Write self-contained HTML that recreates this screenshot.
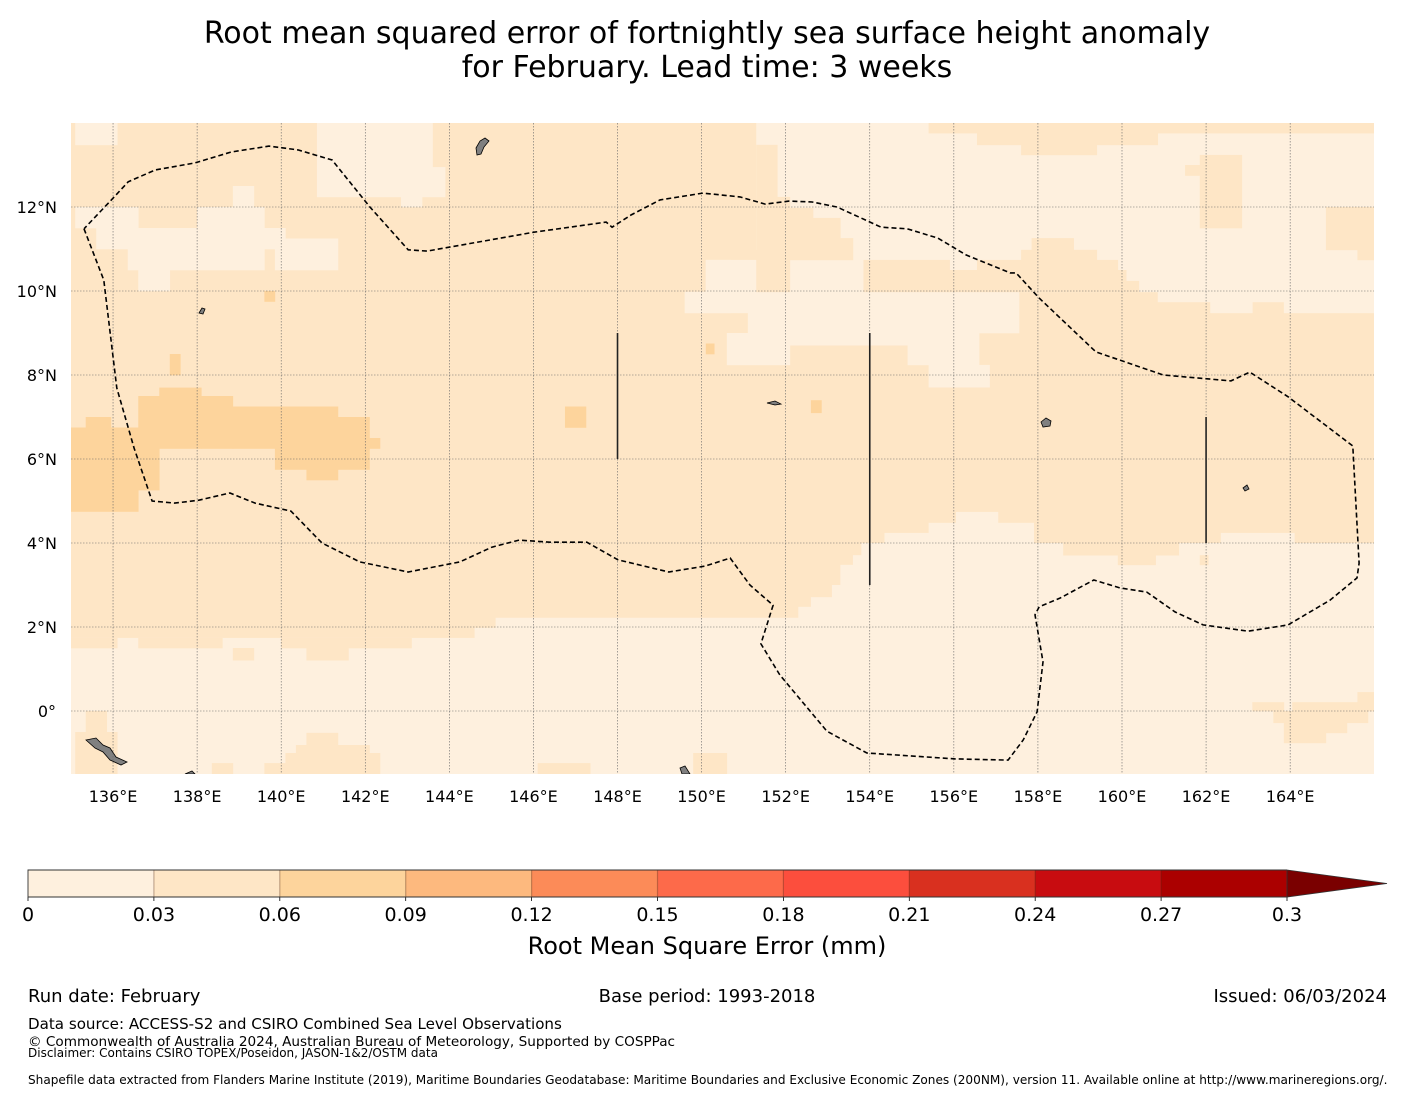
<!DOCTYPE html>
<html><head><meta charset="utf-8"><style>
html,body{margin:0;padding:0;background:#fff;}
svg{display:block;font-family:"DejaVu Sans","Liberation Sans",sans-serif;}
</style></head><body>
<svg id="fig" width="1416" height="1095" viewBox="0 0 1416 1095" xmlns="http://www.w3.org/2000/svg">
<text x="707" y="43" font-size="30" text-anchor="middle" fill="#000">Root mean squared error of fortnightly sea surface height anomaly</text>
<text x="707" y="77" font-size="30" text-anchor="middle" fill="#000">for February. Lead time: 3 weeks</text>
<defs><clipPath id="mapclip"><rect x="71" y="123" width="1303" height="651"/></clipPath></defs>
<g id="map" clip-path="url(#mapclip)"></g>
<g id="axes"></g>
<g id="cbar"></g>
<text x="707" y="954" font-size="24" text-anchor="middle">Root Mean Square Error (mm)</text>
<text x="28" y="1002" font-size="18">Run date: February</text>
<text x="707" y="1002" font-size="18" text-anchor="middle">Base period: 1993-2018</text>
<text x="1387" y="1002" font-size="18" text-anchor="end">Issued: 06/03/2024</text>
<text x="28" y="1029" font-size="15.1">Data source: ACCESS-S2 and CSIRO Combined Sea Level Observations</text>
<text x="28" y="1046" font-size="13.6">© Commonwealth of Australia 2024, Australian Bureau of Meteorology, Supported by COSPPac</text>
<text x="28" y="1057" font-size="12">Disclaimer: Contains CSIRO TOPEX/Poseidon, JASON-1&amp;2/OSTM data</text>
<text x="28" y="1084" font-size="12.1">Shapefile data extracted from Flanders Marine Institute (2019), Maritime Boundaries Geodatabase: Maritime Boundaries and Exclusive Economic Zones (200NM), version 11. Available online at http://www.marineregions.org/.</text>
</svg>
<script>
// colour scale
const levels = [0,0.03,0.06,0.09,0.12,0.15,0.18,0.21,0.24,0.27,0.3];
const levelColors = ["#fef0de","#fee6c6","#fdd49c","#fdb97e","#fc8b58","#fd6a4a","#fc4e3d","#d9301f","#c80c10","#ab0000"];
const extendColor = "#7a0000";
const cbarTicks = ["0","0.03","0.06","0.09","0.12","0.15","0.18","0.21","0.24","0.27","0.3"];
// map extent
const lonTicks = [136,138,140,142,144,146,148,150,152,154,156,158,160,162,164];
const latTicks = [12,10,8,6,4,2,0];
const baseValue = 0.045;
// RMSE cells: [lonWest, lonEast, latNorth, latSouth, value]
const cells = [
[135.1,136.1,14,13.48,0.015],[140.85,143.6,14,12.95,0.015],[140.85,143.9,12.95,12.24,0.015],[142.85,143.35,12.24,12.0,0.015],
[135.1,136.6,12.0,11.5,0.015],[138.0,139.6,12.0,11.5,0.015],[138.85,139.35,12.5,12.0,0.015],[135.6,140.1,11.5,11.0,0.015],
[136.35,139.6,11.0,10.5,0.015],[139.85,141.35,11.25,10.5,0.015],[136.6,137.35,10.5,10.0,0.015],
[150.1,150.7,10.74,9.98,0.015],[149.6,150.7,9.98,9.48,0.015],
[151.3,155.4,14,13.76,0.015],[151.3,166,13.76,10.98,0.015],[153.3,166,10.98,10.74,0.015],[150.1,166,10.74,9.98,0.015],
[149.6,157.55,9.98,9.48,0.015],[151.1,157.55,9.48,9.0,0.015],[150.6,152.1,9.0,8.24,0.015],[152.1,154.9,9.0,8.71,0.015],
[154.9,156.6,9.0,8.24,0.015],[155.4,156.85,8.24,7.71,0.015],
[160.85,166,9.98,9.74,0.015],[162.1,163.1,9.74,9.48,0.015],[163.85,166,9.74,9.48,0.015],
[151.3,151.8,13.48,12.24,0.045],[151.3,152.1,12.24,11.98,0.045],[155.4,166,14,13.76,0.045],[156.55,160.85,13.76,13.48,0.045],
[157.6,159.4,13.48,13.24,0.045],[161.85,162.85,13.24,11.5,0.045],[161.5,161.85,13.0,12.75,0.045],[164.85,166,12.0,10.98,0.045],
[165.6,166,10.98,10.74,0.045],[151.3,152.65,11.98,11.74,0.045],[151.3,153.3,11.74,11.26,0.045],[151.3,153.6,11.26,10.74,0.045],
[151.3,152.1,10.74,9.98,0.045],[153.85,155.9,10.74,9.98,0.045],[157.85,158.85,11.26,10.98,0.045],[157.6,159.4,10.98,10.74,0.045],
[156.55,159.9,10.74,10.5,0.045],[155.85,160.1,10.5,10.24,0.045],[155.85,160.4,10.24,9.98,0.045],
[145.1,166,2.22,1.98,0.015],[144.6,166,1.98,1.74,0.015],[135,166,1.74,-1.6,0.015],
[153.8,166,4.0,3.71,0.015],[153.6,166,3.71,3.48,0.015],[153.3,166,3.48,3.0,0.015],[153.1,166,3.0,2.71,0.015],
[152.6,166,2.71,2.48,0.015],[152.3,166,2.48,2.22,0.015],[154.35,157.9,4.24,4.0,0.015],[162.35,164.1,4.24,4.0,0.015],
[155.4,157.9,4.48,4.24,0.015],[156.05,157.05,4.74,4.48,0.015],
[158.6,161.35,4.0,3.71,0.045],[159.9,160.8,3.71,3.48,0.045],[161.85,162.05,3.71,3.48,0.045],
[135,136.1,1.74,1.5,0.045],[136.6,138.6,1.74,1.5,0.045],[140.0,143.1,1.74,1.5,0.045],[138.85,139.35,1.5,1.21,0.045],[140.6,141.6,1.5,1.21,0.045],
[135.35,135.85,0.0,-0.52,0.045],[135.1,136.1,-0.5,-1.6,0.045],[140.6,141.35,-0.52,-1.6,0.045],[140.35,142.1,-0.81,-1.6,0.045],
[140.1,142.35,-1.0,-1.6,0.045],[138.35,138.85,-1.24,-1.6,0.045],[139.6,140.1,-1.24,-1.6,0.045],[146.1,147.35,-1.24,-1.6,0.045],
[149.8,150.6,-1.0,-1.6,0.045],
[163.1,163.85,0.21,0,0.045],[164.05,165.6,0.21,0,0.045],[165.6,166,0.45,0,0.045],[163.6,165.85,0,-0.28,0.045],
[163.85,165.35,-0.28,-0.52,0.045],[163.85,164.85,-0.52,-0.76,0.045],
[135,136.6,6.75,4.75,0.075],[135.35,135.95,7.0,6.75,0.075],[136.6,137.1,7.5,5.26,0.075],[137.1,138.1,7.7,6.25,0.075],
[138.1,138.85,7.5,6.25,0.075],[138.85,139.85,7.25,6.25,0.075],[139.85,141.35,7.25,5.75,0.075],[141.35,142.1,7.0,5.75,0.075],
[142.1,142.35,6.5,6.25,0.075],[140.6,141.35,5.75,5.5,0.075],[137.35,137.6,8.5,8.0,0.075],[139.6,139.85,10.0,9.75,0.075],
[146.75,147.25,7.25,6.75,0.075],[150.1,150.3,8.75,8.5,0.075],[152.6,152.85,7.4,7.1,0.075]
];
// EEZ boundary (lon, lat)
const eezLon = [];
const eezLat = [];
const eezPx = [[84,229],[104,280],[117,388],[134,448],[152,501],[175,503],[199,500],[230,493],[255,503],[291,511],[322,543],[360,562],[408,572],[460,562],[492,547],[519,540],[550,542],[587,542],[618,560],[669,572],[705,566],[730,558],[750,585],[773,605],[761,644],[780,675],[827,731],[867,753],[955,759],[1008,760],[1023,740],[1037,712],[1043,662],[1035,615],[1039,607],[1060,598],[1094,580],[1120,588],[1147,592],[1175,612],[1203,625],[1248,631],[1288,625],[1330,600],[1357,578],[1359,563],[1353,446],[1288,397],[1250,372],[1231,381],[1163,375],[1096,352],[1039,298],[1016,273],[1010,273],[966,255],[938,238],[907,229],[881,227],[837,207],[812,202],[789,201],[765,204],[740,197],[703,193],[660,200],[631,215],[612,227],[606,222],[534,232],[427,251],[408,250],[370,207],[332,160],[298,150],[269,146],[231,152],[195,163],[155,170],[128,182],[113,198],[84,229]];
eezPx.forEach(p=>{eezLon.push(+(135+(p[0]-71)/42.04).toFixed(2)); eezLat.push(+(14-(p[1]-123)/42).toFixed(2));});

const NS="http://www.w3.org/2000/svg";
const xs = lon => 71 + (lon-135)*42.04;
const ys = lat => 123 + (14-lat)*42;
function colorFor(v){for(let i=0;i<levelColors.length;i++){if(v<levels[i+1])return levelColors[i];}return extendColor;}
function mk(tag,attrs,parent){const e=document.createElementNS(NS,tag);for(const k in attrs)e.setAttribute(k,attrs[k]);parent.appendChild(e);return e;}
const map=document.getElementById('map');
let bg=mk('rect',{x:71,y:123,width:1303,height:651,fill:colorFor(baseValue)},map);


cells.forEach(c=>{
  const x0=xs(c[0]),x1=xs(c[1]),y0=ys(c[2]),y1=ys(c[3]);
  const r=mk('rect',{x:x0,y:y0,width:x1-x0+0.3,height:y1-y0+0.3,fill:colorFor(c[4])},map);
  
  
});
// islands
const islands=[
 "M476,148 L480,141 L485,138 L489,141 L484,147 L481,154 L477,155 Z",
 "M199,313 L202,308 L205,309 L203,314 Z",
 "M1041,422 L1046,418 L1051,421 L1050,426 L1043,427 Z",
 "M1243,488 L1247,485 L1249,489 L1245,491 Z",
 "M86,740 L96,738 L103,745 L110,748 L116,757 L127,762 L121,765 L110,760 L103,752 L95,748 Z",
 "M680,768 L685,766 L690,774 L682,774 Z",
 "M185,774 L192,771 L195,774 Z",
 "M767,403 L775,401 L781,404 L775,405 Z"
];
islands.forEach(d=>{const p=mk('path',{d:d,fill:'#808080',stroke:'#000','stroke-width':0.8},map);
 
 });
// gridlines
lonTicks.forEach(l=>{const g=mk('line',{x1:xs(l),x2:xs(l),y1:123,y2:774,stroke:'#666','stroke-width':0.6,'stroke-dasharray':'1.5,1.5'},map);
 
 });
latTicks.forEach(l=>{const g=mk('line',{x1:71,x2:1374,y1:ys(l),y2:ys(l),stroke:'#666','stroke-width':0.6,'stroke-dasharray':'1.5,1.5'},map);
 
 });
// vertical boundary lines
[[148,9,6],[154,9,3],[162,7,4]].forEach(v=>{const l=mk('line',{x1:xs(v[0]),x2:xs(v[0]),y1:ys(v[1]),y2:ys(v[2]),stroke:'#222','stroke-width':1.6},map);
 
 });
// EEZ
let d='';
eezLon.forEach((lo,i)=>{d+=(i?'L':'M')+xs(lo).toFixed(1)+','+ys(eezLat[i]).toFixed(1)+' ';});
const eez=mk('path',{d:d,fill:'none',stroke:'#000','stroke-width':1.6,'stroke-dasharray':'5,3'},map);


// axis labels
const axes=document.getElementById('axes');
lonTicks.forEach(l=>{const t=mk('text',{x:xs(l),y:802,'font-size':16,'text-anchor':'middle'},axes);t.textContent=l+'°E';
 
 });
latTicks.forEach(l=>{const t=mk('text',{x:l===0?56:57,y:ys(l)+6,'font-size':16,'text-anchor':'end'},axes);t.textContent=l===0?'0°':l+'°N';
 
 });
// colorbar
const cb=document.getElementById('cbar');
const cx0=28,cx1=1287,cy0=870,cy1=897;
const cbx = v => cx0 + (v-levels[0])/(levels[levels.length-1]-levels[0])*(cx1-cx0);
levelColors.forEach((c,i)=>{const r=mk('rect',{x:cbx(levels[i]),y:cy0,width:cbx(levels[i+1])-cbx(levels[i])+0.5,height:cy1-cy0,fill:c},cb);
 
 });
const tri=mk('polygon',{points:`${cx1},${cy0} ${cx1+100},${(cy0+cy1)/2} ${cx1},${cy1}`,fill:extendColor,stroke:'#333','stroke-width':0.8},cb);


levels.forEach((v,i)=>{if(i>0&&i<levels.length-1){const s=mk('line',{x1:cbx(v),x2:cbx(v),y1:cy0,y2:cy1,stroke:'rgba(80,40,20,0.35)','stroke-width':1.2},cb);
 
 }
 const tk=mk('line',{x1:cbx(v),x2:cbx(v),y1:cy1,y2:cy1+4,stroke:'#000','stroke-width':0.8},cb);
 
 
 const t=mk('text',{x:cbx(v),y:921,'font-size':19,'text-anchor':'middle'},cb);t.textContent=cbarTicks[i];
 
 });
const ob=mk('path',{d:`M${cx1},${cy0} L${cx0},${cy0} L${cx0},${cy1} L${cx1},${cy1}`,fill:'none',stroke:'#333','stroke-width':0.9},cb);


</script>
</body></html>
